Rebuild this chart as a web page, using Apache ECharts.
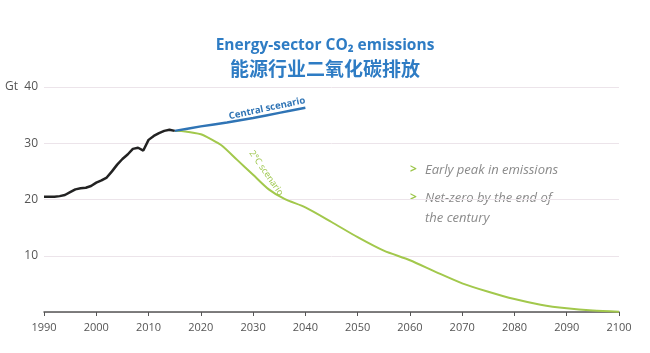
<!DOCTYPE html>
<html>
<head>
<meta charset="utf-8">
<script src="https://cdn.jsdelivr.net/npm/echarts@6/dist/echarts.min.js"></script>
<style>
  html, body { margin: 0; padding: 0; background: #fff; }
  #main { width: 650px; height: 353px; }
</style>
</head>
<body>
<div id="main"></div>
<script>
// 历史排放 (Gt)
const histYears = [1990,1991,1992,1993,1994,1995,1996,1997,1998,1999,2000,2001,2002,2003,2004,2005,2006,2007,2008,2009,2010,2011,2012,2013,2014,2015];
const histValues = [20.5,20.5,20.5,20.6,20.8,21.3,21.8,22.0,22.1,22.4,23.0,23.4,23.9,25.0,26.2,27.2,28.0,29.0,29.2,28.7,30.6,31.3,31.8,32.2,32.4,32.2];

const centralYears = [2015,2020,2025,2030,2035,2040];
const centralValues = [32.2,33.0,33.7,34.5,35.4,36.3];

const twoDegYears = [2015,2017,2020,2022,2024,2027,2030,2033,2036,2040,2045,2050,2055,2060,2065,2070,2075,2080,2085,2090,2095,2100];
const twoDegValues = [32.2,32.1,31.6,30.7,29.6,27.0,24.4,21.8,20.1,18.6,16.0,13.3,10.9,9.2,7.1,5.1,3.6,2.3,1.3,0.65,0.25,0.05];

const notes = ['Early peak in emissions', 'Net-zero by the end of', 'the century'];

const pairs = (xs, ys) => xs.map((x, i) => [x, ys[i]]);

let myChart = echarts.init(document.getElementById('main'));

const centralData = pairs(centralYears, centralValues);
centralData[4] = {
  value: centralData[4],
  label: {
    show: true, formatter: 'Central scenario', position: 'top', rotate: 12,
    offset: [-12, 3], color: '#2f74b5', fontSize: 9.5, fontWeight: 'bold', fontFamily: 'Open Sans'
  }
};

const twoDegData = pairs(twoDegYears, twoDegValues);
twoDegData[5] = {
  value: twoDegData[5],
  label: {
    show: true, formatter: '2°C scenario', position: 'right', rotate: -55,
    offset: [-2, -12], color: '#9cc64a', fontSize: 9, fontFamily: 'Open Sans'
  }
};

myChart.setOption({
  animation: false,
  title: [
    {
      text: 'Energy-sector CO₂ emissions',
      left: 'center', top: 33,
      textStyle: { color: '#2e7cc4', fontSize: 15.5, fontWeight: 'bold', fontFamily: 'Open Sans' }
    },
    {
      text: '能源行业二氧化碳排放',
      left: 'center', top: 54,
      textStyle: { color: '#2e7cc4', fontSize: 19, fontWeight: 'bold', fontFamily: 'Noto Sans CJK SC' }
    }
  ],
  grid: { left: 44, right: 31, top: 87, bottom: 41 },
  xAxis: {
    type: 'value', min: 1990, max: 2100, interval: 10,
    axisLine: { show: true, lineStyle: { color: '#555', width: 1.5 } },
    axisTick: { show: true, length: 4, lineStyle: { color: '#555' } },
    axisLabel: { color: '#555', fontSize: 11, margin: 10, fontFamily: 'Open Sans', formatter: v => String(v) },
    splitLine: { show: false }
  },
  yAxis: {
    type: 'value', min: 0, max: 40, interval: 10,
    axisLine: { show: false },
    axisTick: { show: false },
    axisLabel: {
      color: '#555', fontSize: 12, margin: 6, fontFamily: 'Open Sans',
      formatter: v => v === 40 ? 'Gt  40' : (v === 0 ? '' : v)
    },
    splitLine: { lineStyle: { color: '#ece4ea', width: 1 } }
  },
  graphic: [
    { type: 'text', left: 410, top: 164, style: { text: '>', fill: '#9cc64a', font: 'bold 12px Open Sans' } },
    { type: 'text', left: 425, top: 164, style: { text: notes[0], fill: '#8a8a8a', font: 'italic 13px Open Sans' } },
    { type: 'text', left: 410, top: 192, style: { text: '>', fill: '#9cc64a', font: 'bold 12px Open Sans' } },
    { type: 'text', left: 425, top: 192, style: { text: notes[1], fill: '#8a8a8a', font: 'italic 13px Open Sans' } },
    { type: 'text', left: 425, top: 212, style: { text: notes[2], fill: '#8a8a8a', font: 'italic 13px Open Sans' } }
  ],
  series: [
    {
      type: 'line', data: twoDegData, showSymbol: true, symbolSize: 0, smooth: 0.25,
      lineStyle: { color: '#a2c84c', width: 2 }, z: 2
    },
    {
      type: 'line', data: centralData, showSymbol: true, symbolSize: 0, smooth: 0.25,
      lineStyle: { color: '#2f74b5', width: 2.5 }, z: 3
    },
    {
      type: 'line', data: pairs(histYears, histValues), showSymbol: false,
      lineStyle: { color: '#222', width: 2.5 }, z: 4
    }
  ]
});
</script>
</body>
</html>
